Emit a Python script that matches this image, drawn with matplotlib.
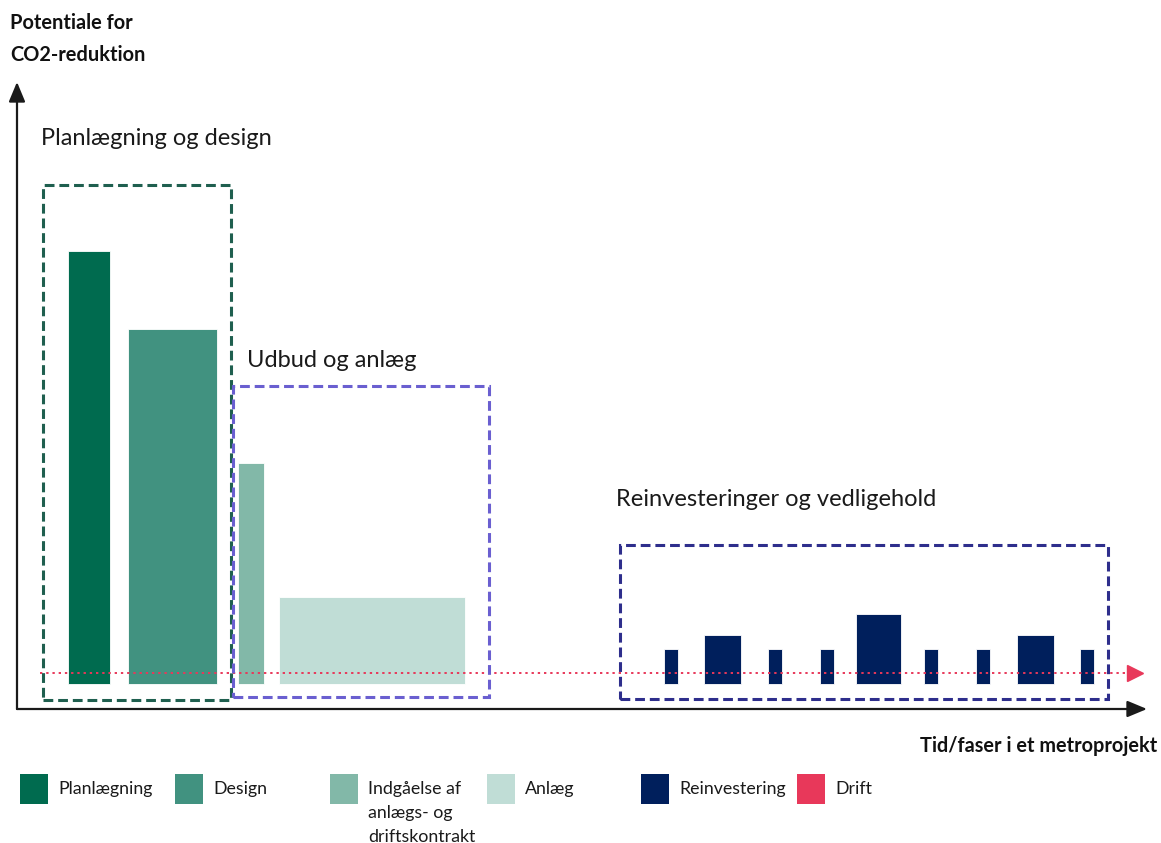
import matplotlib
matplotlib.use("Agg")
import matplotlib.pyplot as plt
from matplotlib.patches import Rectangle

plt.rcParams['font.family'] = ['Lato', 'DejaVu Sans']

# ---------------- data ----------------
phase_names = ["Planlægning", "Design", "Indgåelse af\nanlægs- og\ndriftskontrakt", "Anlæg"]
phase_x = [72, 155.5, 234, 355]          # bar centres (time axis units)
phase_w = [42, 89, 26, 186]              # bar widths
phase_h = [100, 82, 51, 20]              # potential for CO2 reduction
phase_colors = ["#006b4f", "#419280", "#82b8a8", "#c0ddd6"]

reinv_x = [653.7, 705.5, 757.7, 809.9, 861.8, 914.3, 966, 1018, 1070]
reinv_w = [14, 37, 14, 14, 45, 14, 14, 37, 14]
reinv_h = [8, 11.3, 8, 8, 16.2, 8, 8, 11.3, 8]
reinv_color = "#001f5c"

drift_level = 2.5
drift_x = [23, 1111]
drift_color = "#e8385a"

legend_labels = ["Planlægning", "Design", "Indgåelse af\nanlægs- og\ndriftskontrakt",
                 "Anlæg", "Reinvestering", "Drift"]
legend_colors = phase_colors + [reinv_color, drift_color]

groups = ["Planlægning og design", "Udbud og anlæg", "Reinvesteringer og vedligehold"]
group_box_x = [(26, 214), (216, 472), (603, 1091)]
group_box_y = [(-3.7, 115.2), (-3.0, 68.8), (-3.5, 32.1)]
group_box_colors = ["#1f5f4f", "#6a5fd0", "#2e2e8c"]
group_label_xy = [(24, 126), (230, 74.8), (599, 42.5)]

y_label = "Potentiale for\nCO2-reduktion"
x_label = "Tid/faser i et metroprojekt"

# ---------------- figure ----------------
W, H = 1161, 843
fig = plt.figure(figsize=(W / 100, H / 100), dpi=100)
ax = fig.add_axes([17 / W, (H - 709) / H, 1130 / W, 627 / H])
ax.set_xlim(0, 1130)
ax.set_ylim(-5.77, 139)
ax.axis("off")

# phase bars
for x, w, h, c in zip(phase_x, phase_w, phase_h, phase_colors):
    ax.bar(x, h, width=w, color=c, edgecolor="white", linewidth=0.6, zorder=2)

# reinvestment bars
ax.bar(reinv_x, reinv_h, width=reinv_w, color=reinv_color, edgecolor="white",
       linewidth=0.6, zorder=2)

# drift line
ax.plot(drift_x, [drift_level, drift_level], color=drift_color, lw=1.4,
        linestyle=(0, (1.2, 2.0)), zorder=3)
ax.plot([drift_x[1] + 7], [drift_level], marker=">", color=drift_color,
        markersize=12, zorder=3, clip_on=False)

# dashed group boxes
for (x0, x1), (y0, y1), c in zip(group_box_x, group_box_y, group_box_colors):
    ax.add_patch(Rectangle((x0, y0), x1 - x0, y1 - y0, fill=False, edgecolor=c,
                           linewidth=2.2, linestyle=(0, (3.2, 1.6)), zorder=4))

for (lx, ly), g in zip(group_label_xy, groups):
    ax.text(lx, ly, g, fontsize=17, color="#1a1a1a", va="center", ha="left")

# axes arrows
ax.annotate("", xy=(0, 139), xytext=(0, -5.77), xycoords="data",
            arrowprops=dict(arrowstyle="-|>,head_length=1.2,head_width=0.5",
                            color="#1a1a1a", lw=1.6, shrinkA=0, shrinkB=0),
            annotation_clip=False)
ax.annotate("", xy=(1130, -5.77), xytext=(0, -5.77), xycoords="data",
            arrowprops=dict(arrowstyle="-|>,head_length=1.2,head_width=0.5",
                            color="#1a1a1a", lw=1.6, shrinkA=0, shrinkB=0),
            annotation_clip=False)

fig.text(10 / W, 1 - 39 / H, y_label, fontsize=14.4, fontweight="bold",
         color="#111111", ha="left", va="center", linespacing=1.8)
fig.text(1157 / W, 1 - 746 / H, x_label, fontsize=14.3, fontweight="bold",
         color="#111111", ha="right", va="center")

# legend
leg_x = [20, 175, 330, 487, 641, 797]
for i, (lab, c) in enumerate(zip(legend_labels, legend_colors)):
    px = leg_x[i]
    fig.patches.append(Rectangle((px / W, 1 - 804 / H), 28 / W, 30 / H,
                                 transform=fig.transFigure, facecolor=c,
                                 edgecolor="none"))
    fig.text((px + 38) / W, 1 - 781 / H, lab, fontsize=12.8, color="#1a1a1a",
             ha="left", va="top", linespacing=1.6)

fig.savefig("out.png", dpi=100)
